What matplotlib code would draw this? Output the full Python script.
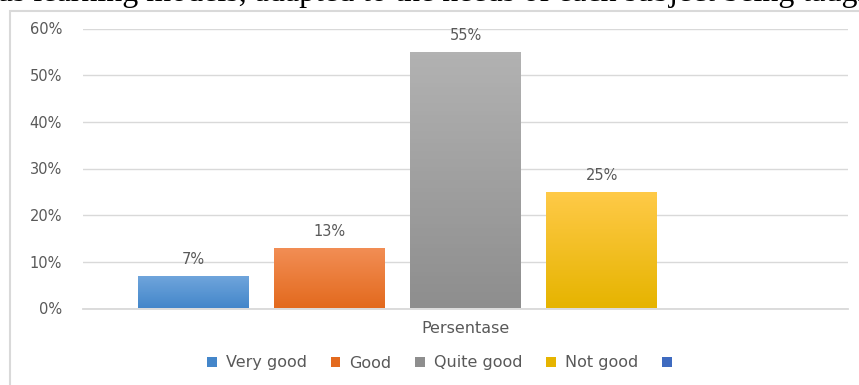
import numpy as np
import matplotlib
matplotlib.use("Agg")
import matplotlib.pyplot as plt
from matplotlib.patches import Rectangle, Patch
from matplotlib.colors import LinearSegmentedColormap

# data
group = "Persentase"
labels = ["Very good", "Good", "Quite good", "Not good", ""]
values = [7, 13, 55, 25, np.nan]
yticks = [0, 10, 20, 30, 40, 50, 60]
colors_top = ["#70A6DC", "#F28E55", "#B2B2B2", "#FFCA48", "#4472C4"]
colors_bot = ["#4486CA", "#E36A1E", "#8E8E8E", "#E6B400", "#3F6BC0"]
caption = "us learning models, adapted to the needs of each subject being taught"

plt.rcParams["font.family"] = ["DejaVu Sans"]
txt = "#595959"
fs = 10.5

fig = plt.figure(figsize=(8.59, 3.85), dpi=100)

# page text cut off above the chart
fig.text(-0.004, 0.9985, caption, family="Liberation Serif", fontsize=23,
         color="black", va="baseline", ha="left")
# chart frame
fig.patches.append(Rectangle((10 / 859, -0.1), 1.0, (385 - 11) / 385 + 0.1,
                             transform=fig.transFigure, fill=False,
                             ec="#D9D9D9", lw=1.5, zorder=5))

ax = fig.add_axes([83 / 859, (385 - 308.5) / 385, (848 - 83) / 859, (308.5 - 28.5) / 385])

pitch = 1.0
width = 0.81
x = (np.arange(len(values)) - 2) * pitch
for xi, v, ct, cb in zip(x, values, colors_top, colors_bot):
    if np.isnan(v):
        continue
    rect = Rectangle((xi - width / 2, 0), width, v, fc="none", ec="none")
    ax.add_patch(rect)
    cmap = LinearSegmentedColormap.from_list("g", [cb, ct])
    grad = np.linspace(0, 1, 64).reshape(-1, 1)
    im = ax.imshow(grad, cmap=cmap, origin="lower", aspect="auto",
                   extent=(xi - width / 2, xi + width / 2, 0, v), zorder=2)
    im.set_clip_path(rect)
    ax.text(xi, v + 2.0, "%d%%" % v, ha="center", va="bottom",
            color=txt, fontsize=fs)

ax.set_xlim(-2.81, 2.81)
ax.set_ylim(0, 60)
ax.set_yticks(yticks)
ax.set_yticklabels(["%d%%" % t for t in yticks])
ax.set_xticks([0])
ax.set_xticklabels([group], fontsize=11.5)
ax.tick_params(axis="both", length=0, colors=txt)
ax.tick_params(axis="y", pad=15, labelsize=fs)
ax.tick_params(axis="x", pad=9)
ax.grid(axis="y", color="#D9D9D9", lw=1)
ax.set_axisbelow(True)
for s in ["top", "right", "left"]:
    ax.spines[s].set_visible(False)
ax.spines["bottom"].set_color("#D9D9D9")
ax.spines["bottom"].set_linewidth(1.3)

handles = [Patch(fc=c, ec="none") for c in colors_bot]
fig.legend(handles, labels, ncol=5, loc="center", bbox_to_anchor=(444 / 859, 1 - 363 / 385),
           frameon=False, handlelength=0.62, handleheight=0.62, handletextpad=0.55,
           columnspacing=1.5, fontsize=11.5, labelcolor=txt)

fig.savefig("out.png", dpi=100)
